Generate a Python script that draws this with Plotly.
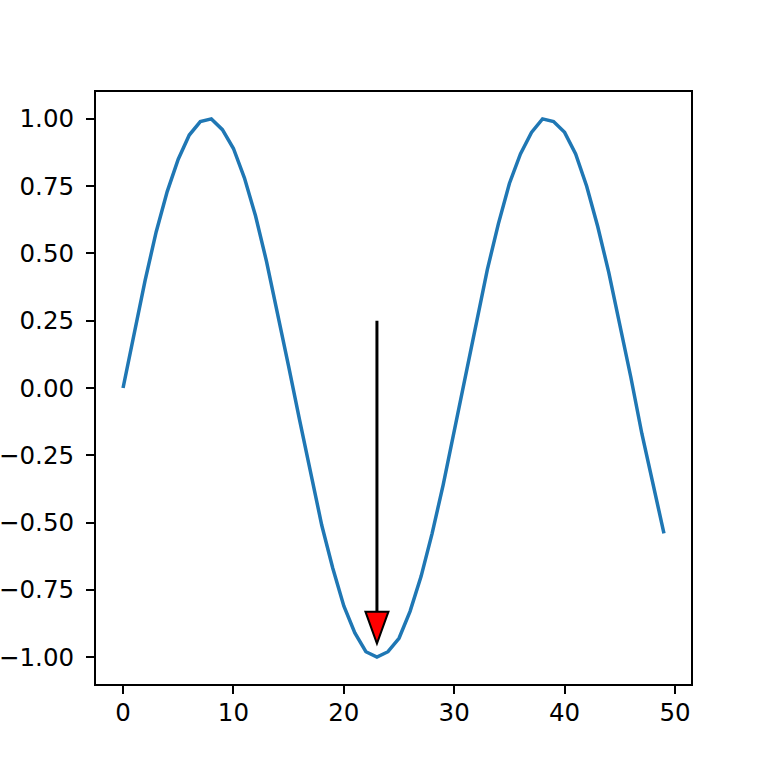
import plotly.graph_objects as go

x_values = list(range(50))
y_values = [0.00, 0.20, 0.40, 0.58, 0.73, 0.85, 0.94, 0.99, 1.00, 0.96,
            0.89, 0.78, 0.64, 0.47, 0.28, 0.08, -0.12, -0.32, -0.51, -0.67,
            -0.81, -0.91, -0.98, -1.00, -0.98, -0.93, -0.83, -0.70, -0.54, -0.36,
            -0.16, 0.04, 0.25, 0.44, 0.61, 0.76, 0.87, 0.95, 1.00, 0.99,
            0.95, 0.87, 0.75, 0.60, 0.43, 0.24, 0.04, -0.17, -0.36, -0.54]

x_ticks = [0, 10, 20, 30, 40, 50]
y_ticks = [-1.00, -0.75, -0.50, -0.25, 0.00, 0.25, 0.50, 0.75, 1.00]

# annotation arrow: from text point down to the minimum
arrow_x = 23
arrow_start = 0.25
arrow_end = -0.95

W = H = 768
ML, MR, MT, MB = 96, 77, 92, 84
x_range = [-2.45, 51.45]
y_range = [-1.1, 1.1]

px_per_x = (W - ML - MR) / (x_range[1] - x_range[0])
px_per_y = (H - MT - MB) / (y_range[1] - y_range[0])
head_len = 32 / px_per_y
head_half = 11.5 / px_per_x
head_base = arrow_end + head_len

fig = go.Figure()
fig.add_trace(go.Scatter(
    x=x_values, y=y_values, mode='lines',
    line=dict(color='#1f77b4', width=3.5),
    hoverinfo='skip', showlegend=False
))

fig.add_shape(type='line', xref='x', yref='y',
              x0=arrow_x, x1=arrow_x, y0=arrow_start, y1=head_base,
              line=dict(color='black', width=3))
fig.add_shape(type='path', xref='x', yref='y',
              path=f'M {arrow_x - head_half} {head_base} L {arrow_x + head_half} {head_base} '
                   f'L {arrow_x} {arrow_end} Z',
              fillcolor='red', line=dict(color='black', width=2))

axis_common = dict(
    showline=True, mirror=True, linecolor='black', linewidth=2,
    ticks='outside', ticklen=8, tickwidth=2, tickcolor='black',
    showgrid=False, zeroline=False, automargin=False,
    tickfont=dict(family='DejaVu Sans', size=24.5, color='black'),
)

fig.update_xaxes(range=x_range, tickvals=x_ticks, ticklabelstandoff=-2, **axis_common)
fig.update_yaxes(range=y_range, tickvals=y_ticks, tickformat='.2f', ticklabelstandoff=7, **axis_common)

fig.update_layout(
    width=W, height=H,
    margin=dict(l=ML, r=MR, t=MT, b=MB),
    plot_bgcolor='white', paper_bgcolor='white',
)

# drop the browser's default page margin so the figure sits at 0,0
fig.write_html('out.html', config={'displayModeBar': False},
               post_script="document.body.style.margin='0';")
